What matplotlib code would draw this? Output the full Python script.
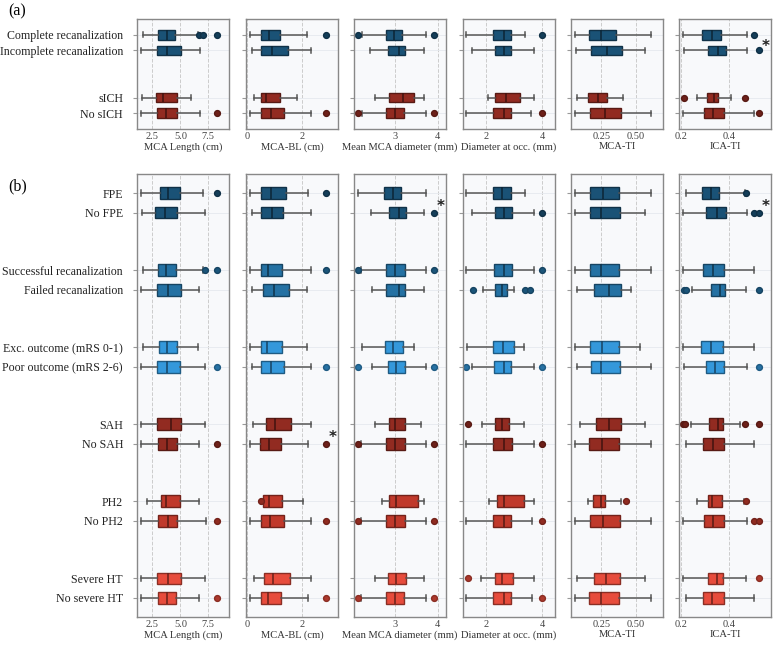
import matplotlib
matplotlib.use('Agg')
import matplotlib.pyplot as plt
from matplotlib.colors import to_rgb

plt.rcParams['font.family'] = ['Liberation Serif', 'DejaVu Serif']

# ---------------- categories ----------------
top_labels = ["Complete recanalization", "Incomplete recanalization", "sICH", "No sICH"]
top_pos = [0, 1, 4, 5]
bot_labels = ["FPE", "No FPE",
              "Successful recanalization", "Failed recanalization",
              "Exc. outcome (mRS 0-1)", "Poor outcome (mRS 2-6)",
              "SAH", "No SAH", "PH2", "No PH2", "Severe HT", "No severe HT"]
bot_pos = [0, 1, 4, 5, 8, 9, 12, 13, 16, 17, 20, 21]

metric_names = ["MCA Length (cm)", "MCA-BL (cm)", "Mean MCA diameter (mm)",
                "Diameter at occ. (mm)", "MCA-TI", "ICA-TI"]
metric_ticks = [[2.5, 5.0, 7.5], [0, 2], [3, 4], [2, 4], [0.25, 0.50], [0.2, 0.4]]
metric_ticklabels = [["2.5", "5.0", "7.5"], ["0", "2"], ["3", "4"], ["2", "4"],
                     ["0.25", "0.50"], ["0.2", "0.4"]]
metric_xlim = [(1.13, 9.35), (-0.03, 3.3), (2.02, 4.2), (1.15, 4.44), (0.027, 0.70), (0.193, 0.574)]

# ---------------- box statistics (whislo, q1, median, q3, whishi) ----------------
# panel (a)
a_len = [[1.64, 3.00, 3.78, 4.49, 6.60], [1.46, 2.89, 3.78, 5.03, 6.76],
         [1.55, 2.86, 3.42, 4.67, 5.95], [1.46, 2.95, 3.72, 4.73, 6.76]]
a_len_fl = [[6.70, 7.00, 8.24], [], [], [8.24]]
a_bl = [[0.10, 0.50, 0.80, 1.21, 2.19], [0.17, 0.53, 0.90, 1.50, 2.34],
        [0.27, 0.51, 0.69, 1.21, 1.83], [0.10, 0.51, 0.87, 1.33, 2.34]]
a_bl_fl = [[2.85], [], [], [2.85]]
a_diam = [[2.20, 2.77, 2.97, 3.16, 3.73], [2.41, 2.83, 3.08, 3.24, 3.69],
          [2.52, 2.85, 3.17, 3.43, 3.69], [2.20, 2.79, 2.98, 3.20, 3.73]]
a_diam_fl = [[2.125, 3.91], [], [], [2.125, 3.91]]
a_occ = [[1.29, 2.23, 2.62, 2.89, 3.40], [1.50, 2.33, 2.62, 2.89, 3.71],
         [2.06, 2.33, 2.69, 3.21, 3.71], [1.29, 2.23, 2.63, 2.87, 3.60]]
a_occ_fl = [[4.0], [], [], [4.0]]
a_mti = [[0.054, 0.160, 0.250, 0.353, 0.615], [0.066, 0.174, 0.294, 0.397, 0.569],
         [0.071, 0.154, 0.225, 0.292, 0.407], [0.054, 0.169, 0.275, 0.390, 0.615]]
a_mti_fl = [[], [], [], []]
a_iti = [[0.210, 0.287, 0.327, 0.367, 0.472], [0.214, 0.312, 0.354, 0.385, 0.472],
         [0.266, 0.306, 0.337, 0.354, 0.407], [0.210, 0.295, 0.334, 0.379, 0.503]]
a_iti_fl = [[0.503], [0.523], [0.214, 0.466], [0.523]]

# panel (b)
b_len = [[1.46, 3.18, 3.87, 5.00, 7.02], [1.55, 2.77, 3.66, 4.73, 7.23],
         [1.64, 3.00, 3.75, 4.64, 7.05], [1.46, 2.95, 3.87, 5.09, 6.64],
         [1.64, 3.07, 3.81, 4.67, 6.58], [1.46, 2.95, 3.84, 4.94, 7.23],
         [1.46, 2.95, 4.14, 5.09, 7.23], [1.46, 3.00, 3.81, 4.67, 6.70],
         [2.05, 3.24, 3.69, 5.00, 6.64], [1.46, 2.98, 3.87, 4.73, 7.26],
         [1.46, 2.92, 3.87, 5.09, 7.23], [1.46, 3.00, 3.78, 4.64, 6.70]]
b_len_fl = [[8.24], [], [7.25, 8.24], [], [], [8.24], [], [8.24], [], [8.24], [], [8.24]]
b_bl = [[0.10, 0.52, 0.87, 1.41, 2.21], [0.17, 0.52, 0.91, 1.31, 2.34],
        [0.10, 0.52, 0.75, 1.27, 2.34], [0.17, 0.57, 1.00, 1.53, 2.16],
        [0.10, 0.50, 0.73, 1.27, 2.18], [0.17, 0.52, 0.87, 1.33, 2.34],
        [0.24, 0.68, 1.02, 1.61, 2.34], [0.10, 0.48, 0.82, 1.25, 2.21],
        [0.51, 0.59, 0.79, 1.28, 2.02], [0.10, 0.52, 0.85, 1.33, 2.34],
        [0.27, 0.62, 0.93, 1.56, 2.34], [0.10, 0.50, 0.76, 1.25, 2.21]]
b_bl_fl = [[2.85], [], [2.85], [], [], [2.85], [], [2.87], [0.50], [2.87], [], [2.87]]
b_diam = [[2.12, 2.73, 2.94, 3.13, 3.73], [2.42, 2.84, 3.09, 3.26, 3.69],
          [2.18, 2.79, 2.98, 3.22, 3.73], [2.45, 2.79, 3.09, 3.22, 3.69],
          [2.20, 2.76, 2.95, 3.19, 3.45], [2.45, 2.83, 3.02, 3.23, 3.73],
          [2.52, 2.84, 2.99, 3.22, 3.61], [2.18, 2.78, 2.99, 3.22, 3.73],
          [2.68, 2.85, 3.02, 3.53, 3.69], [2.18, 2.79, 2.98, 3.22, 3.73],
          [2.52, 2.83, 3.02, 3.25, 3.69], [2.18, 2.77, 2.98, 3.20, 3.73]]
b_diam_fl = [[], [3.91], [2.12, 3.91], [], [], [2.125, 3.91], [], [2.125, 3.91],
             [], [2.125, 3.91], [], [2.125, 3.91]]
b_occ = [[1.29, 2.23, 2.56, 2.88, 3.40], [1.49, 2.32, 2.64, 2.92, 3.71],
         [1.29, 2.26, 2.62, 2.93, 3.71], [1.89, 2.33, 2.57, 2.75, 2.98],
         [1.31, 2.25, 2.61, 3.00, 3.35], [1.48, 2.26, 2.63, 2.87, 3.71],
         [1.83, 2.32, 2.57, 2.80, 3.36], [1.29, 2.24, 2.63, 2.92, 3.71],
         [2.08, 2.37, 2.65, 3.35, 3.71], [1.29, 2.24, 2.62, 2.89, 3.63],
         [1.82, 2.32, 2.57, 2.95, 3.71], [1.29, 2.24, 2.62, 2.88, 3.63]]
b_occ_fl = [[], [4.0], [4.0], [1.51, 3.39, 3.58], [], [1.29, 4.0], [1.36], [4.0],
            [], [4.0], [1.36], [4.0]]
b_mti = [[0.059, 0.164, 0.262, 0.375, 0.615], [0.054, 0.169, 0.248, 0.387, 0.569],
         [0.054, 0.164, 0.248, 0.375, 0.615], [0.071, 0.194, 0.304, 0.392, 0.468],
         [0.054, 0.164, 0.255, 0.377, 0.532], [0.071, 0.172, 0.250, 0.387, 0.615],
         [0.096, 0.213, 0.304, 0.395, 0.569], [0.054, 0.159, 0.257, 0.375, 0.615],
         [0.152, 0.189, 0.245, 0.275, 0.390], [0.054, 0.164, 0.262, 0.385, 0.615],
         [0.071, 0.194, 0.284, 0.385, 0.569], [0.054, 0.159, 0.250, 0.380, 0.615]]
b_mti_fl = [[], [], [], [], [], [], [], [], [0.431], [], [], []]
b_iti = [[0.221, 0.286, 0.323, 0.359, 0.466], [0.210, 0.305, 0.350, 0.385, 0.472],
         [0.210, 0.290, 0.331, 0.377, 0.503], [0.244, 0.323, 0.361, 0.383, 0.468],
         [0.210, 0.281, 0.324, 0.372, 0.503], [0.214, 0.302, 0.341, 0.379, 0.472],
         [0.243, 0.317, 0.354, 0.375, 0.446], [0.221, 0.292, 0.331, 0.379, 0.503],
         [0.266, 0.310, 0.330, 0.368, 0.463], [0.210, 0.295, 0.334, 0.378, 0.472],
         [0.210, 0.310, 0.348, 0.375, 0.468], [0.221, 0.291, 0.330, 0.379, 0.503]]
b_iti_fl = [[0.470], [0.503, 0.523], [], [0.212, 0.221, 0.523], [], [0.523],
            [0.207, 0.217, 0.466, 0.523], [], [0.468], [0.503, 0.523], [0.523], []]

top_stats = [a_len, a_bl, a_diam, a_occ, a_mti, a_iti]
top_fliers = [a_len_fl, a_bl_fl, a_diam_fl, a_occ_fl, a_mti_fl, a_iti_fl]
bot_stats = [b_len, b_bl, b_diam, b_occ, b_mti, b_iti]
bot_fliers = [b_len_fl, b_bl_fl, b_diam_fl, b_occ_fl, b_mti_fl, b_iti_fl]

# colours
c_dblue, c_mblue, c_lblue = "#1a5276", "#2471a3", "#3498db"
c_dred, c_red, c_lred = "#922b21", "#c0392b", "#e74c3c"
top_colors = [c_dblue, c_dblue, c_dred, c_dred]
bot_colors = [c_dblue, c_dblue, c_mblue, c_mblue, c_lblue, c_lblue,
              c_dred, c_dred, c_red, c_red, c_lred, c_lred]

# significance marks: (metric index, y position)
top_stars = [(5, 0.5)]
bot_stars = [(2, 0.5), (5, 0.5), (1, 12.5)]


def darker(c, f):
    r, g, b = to_rgb(c)
    return (r * f, g * f, b * f)


W, H = 774, 645
fig = plt.figure(figsize=(W / 100, H / 100), dpi=100)
col_left = [137, 246, 354, 462.5, 571, 679.3]
col_w = 92


def draw_panel(ytop, ybot, labels, pos, stats_all, fl_all, colors, ylim, stars):
    axes = []
    for j in range(6):
        ax = fig.add_axes([col_left[j] / W, 1 - ybot / H, col_w / W, (ybot - ytop) / H])
        ax.set_facecolor("#f8f9fb")
        stats = []
        for s, fl in zip(stats_all[j], fl_all[j]):
            stats.append(dict(whislo=s[0], q1=s[1], med=s[2], q3=s[3], whishi=s[4], fliers=fl))
        bp = ax.bxp(stats, positions=pos, orientation='horizontal', widths=0.62,
                    patch_artist=True, capwidths=0.3,
                    whiskerprops=dict(color="#555555", lw=1.1),
                    capprops=dict(color="#555555", lw=1.1),
                    medianprops=dict(lw=1.1),
                    flierprops=dict(marker='o', markersize=4.2))
        for k, c in enumerate(colors):
            bp['boxes'][k].set_facecolor(c)
            bp['boxes'][k].set_edgecolor(darker(c, 0.6))
            bp['boxes'][k].set_linewidth(1.0)
            bp['medians'][k].set_color(darker(c, 0.45))
            fl = bp['fliers'][k]
            fl.set_markerfacecolor(darker(c, 0.75))
            fl.set_markeredgecolor(darker(c, 0.6))
        ax.set_xlim(*metric_xlim[j])
        ax.set_ylim(*ylim)
        ax.set_xticks(metric_ticks[j])
        ax.set_xticklabels(metric_ticklabels[j], fontsize=7.5, color="#444444")
        ax.set_yticks(pos)
        if j == 0:
            ax.set_yticklabels(labels, fontsize=8.6, color="#222222")
        else:
            ax.set_yticklabels([])
        ax.tick_params(axis='y', length=3, color="#999999", pad=7)
        ax.tick_params(axis='x', length=0, pad=2)
        ax.grid(axis='x', color="#cccccc", ls='--', lw=0.7)
        ax.grid(axis='y', color="#e6e9ee", ls='-', lw=0.6)
        ax.set_axisbelow(True)
        for sp in ax.spines.values():
            sp.set_color("#888888")
            sp.set_linewidth(1.0)
        ax.set_xlabel(metric_names[j], fontsize=7.6, color="#333333", labelpad=1)
        for (mj, yv) in stars:
            if mj == j:
                ax.annotate("*", xy=(0.94, yv), xycoords=('axes fraction', 'data'),
                            xytext=(0, -2.5), textcoords='offset points',
                            ha='center', va='center', fontsize=11, fontweight='bold',
                            color="#222222", family='DejaVu Sans')
        axes.append(ax)
    return axes


draw_panel(19, 129, top_labels, top_pos, top_stats, top_fliers, top_colors, (6.0, -1.0), top_stars)
draw_panel(174, 617, bot_labels, bot_pos, bot_stats, bot_fliers, bot_colors, (22.0, -1.0), bot_stars)

fig.text(8 / W, 1 - 11 / H, "(a)", fontsize=11.5, va='center', ha='left')
fig.text(8 / W, 1 - 186 / H, "(b)", fontsize=11.5, va='center', ha='left')

fig.savefig("out.png", dpi=100)
